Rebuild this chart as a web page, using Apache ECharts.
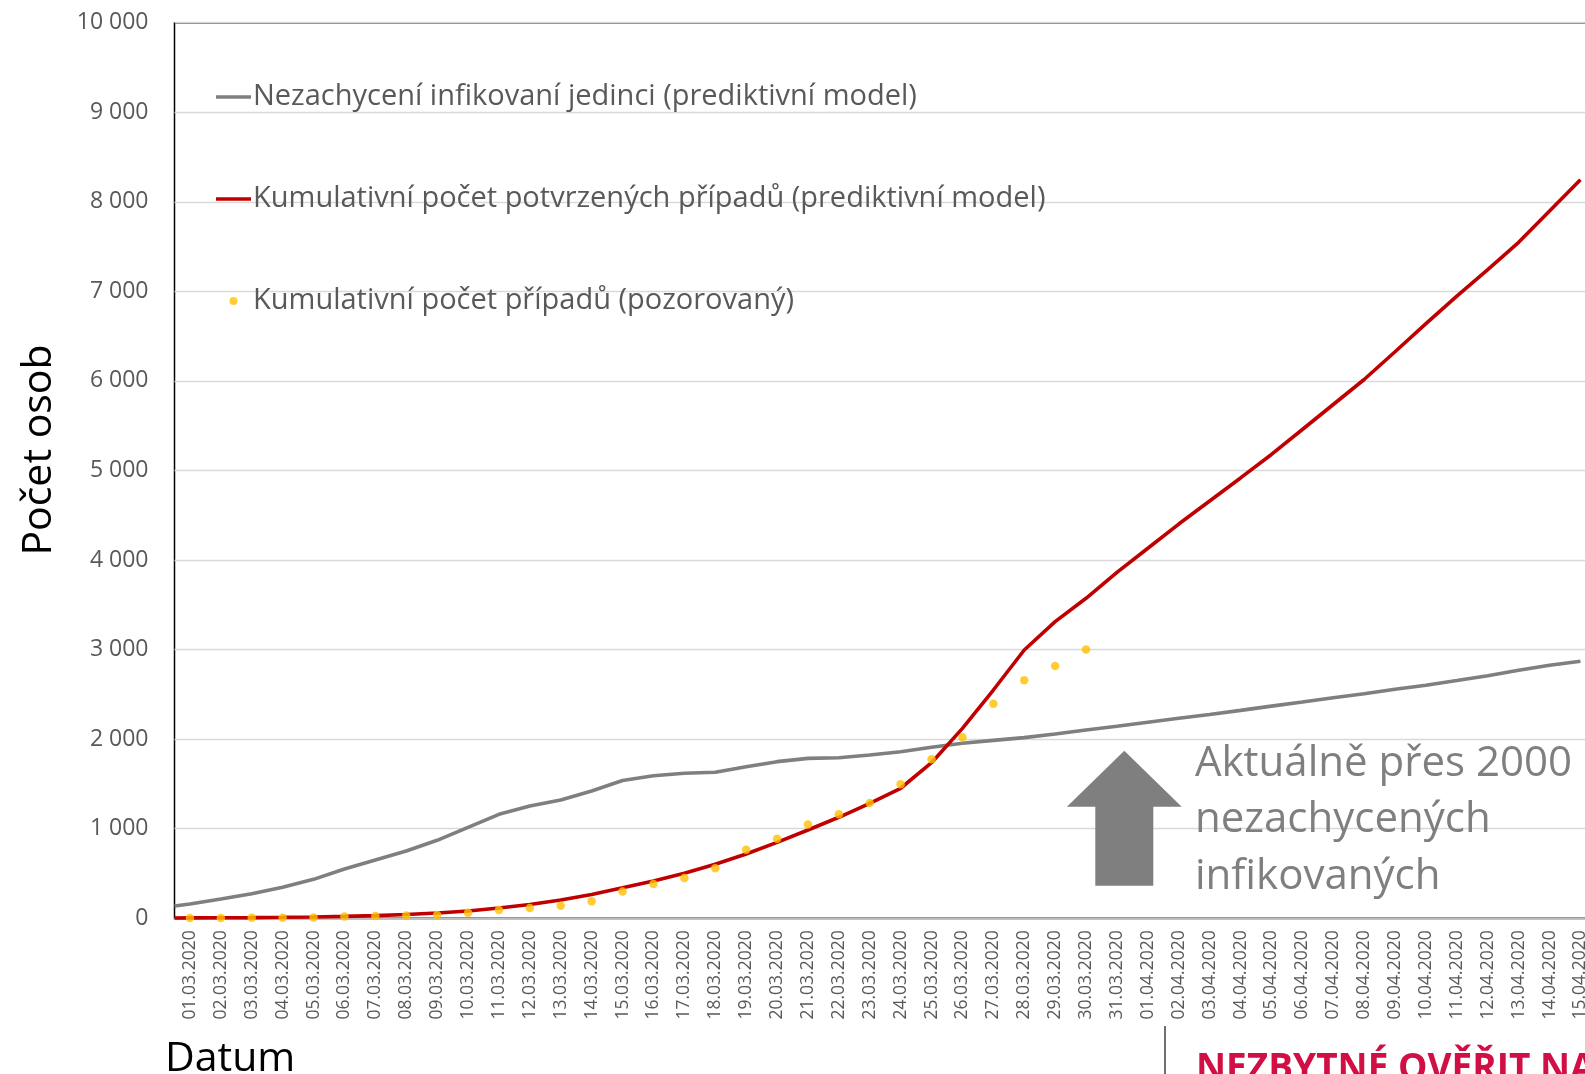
<!DOCTYPE html>
<html>
<head>
<meta charset="utf-8">
<title>Počet osob</title>
<script src="https://cdn.jsdelivr.net/npm/echarts@6/dist/echarts.min.js"></script>
<style>
  html, body { margin: 0; padding: 0; background: #fff; overflow: hidden; }
  #chart { width: 1640px; height: 1074px; }
</style>
</head>
<body>
<div id="chart"></div>
<script>
// data
var dates = ['01.03.2020','02.03.2020','03.03.2020','04.03.2020','05.03.2020','06.03.2020','07.03.2020','08.03.2020','09.03.2020','10.03.2020',
  '11.03.2020','12.03.2020','13.03.2020','14.03.2020','15.03.2020','16.03.2020','17.03.2020','18.03.2020','19.03.2020','20.03.2020',
  '21.03.2020','22.03.2020','23.03.2020','24.03.2020','25.03.2020','26.03.2020','27.03.2020','28.03.2020','29.03.2020','30.03.2020',
  '31.03.2020','01.04.2020','02.04.2020','03.04.2020','04.04.2020','05.04.2020','06.04.2020','07.04.2020','08.04.2020','09.04.2020',
  '10.04.2020','11.04.2020','12.04.2020','13.04.2020','14.04.2020','15.04.2020']

// nezachyceni infikovani (model)
var uncaughtModel = [160, 215, 275, 346, 435, 550, 651, 751, 871, 1016,
  1161, 1254, 1321, 1421, 1538, 1592, 1619, 1630, 1693, 1749,
  1786, 1793, 1823, 1860, 1909, 1954, 1987, 2017, 2058, 2102,
  2145, 2189, 2233, 2276, 2322, 2369, 2415, 2462, 2508, 2557,
  2603, 2655, 2709, 2769, 2825, 2870]

// kumulativni pocet potvrzenych (model)
var confirmedModel = [5, 6, 8, 11, 15, 22, 30, 42, 60, 82,
  115, 155, 205, 265, 340, 416, 502, 603, 718, 848,
  986, 1128, 1284, 1452, 1737, 2121, 2549, 2996, 3312, 3573,
  3863, 4132, 4402, 4660, 4917, 5179, 5458, 5737, 6016, 6326,
  6640, 6948, 7243, 7548, 7898, 8247]

// pozorovano
var observed = [3, 3, 5, 5, 8, 19, 26, 32, 38, 63,
  94, 116, 141, 189, 298, 383, 450, 560, 765, 889,
  1047, 1161, 1287, 1497, 1775, 2022, 2395, 2657, 2817, 3002]

// where the model lines meet the left edge of the plot
var uncaughtAtAxis = 137
var confirmedAtAxis = 3

var yTicks = [0, 1000, 2000, 3000, 4000, 5000, 6000, 7000, 8000, 9000, 10000]

var seriesNames = [
  'Nezachycení infikovaní jedinci (prediktivní model)',
  'Kumulativní počet potvrzených případů (prediktivní model)',
  'Kumulativní počet případů (pozorovaný)'
]

function toPairs(edge, arr) {
  var out = [[-0.5, edge]]
  arr.forEach(function (v, i) { out.push([i, v]) })
  return out
}

function fmt(v) {
  return String(v).replace(/\B(?=(\d{3})+(?!\d))/g, ' ')
}

var FONT = 'Open Sans'
var LINE_ICON = 'path://M0,0L35,0L35,3.6L0,3.6Z'
var chart = echarts.init(document.getElementById('chart'))

var option = {
  animation: false,
  backgroundColor: '#fff',
  grid: {
    left: 174.5, top: 22.7, width: 30.9 * dates.length, height: 895.6,
    show: true, borderColor: '#000', borderWidth: 1.5
  },
  legend: {
    orient: 'vertical',
    left: 211, top: 74,
    itemWidth: 35, itemHeight: 8, itemGap: 66,
    textStyle: { fontFamily: FONT, fontSize: 29, color: '#595959', lineHeight: 36, padding: [0, 0, 0, -3] },
    data: [
      { name: seriesNames[0], icon: LINE_ICON },
      { name: seriesNames[1], icon: LINE_ICON },
      { name: seriesNames[2], icon: 'circle' }
    ]
  },
  xAxis: [{
    type: 'category',
    data: dates,
    boundaryGap: true,
    axisLine: { lineStyle: { color: '#BFBFBF', width: 2 } },
    axisTick: { show: false },
    axisLabel: { interval: 0, rotate: 90, margin: 12, color: '#595959', fontFamily: FONT, fontSize: 17.5 },
    splitLine: { show: false }
  }, {
    // hidden axis for the model lines, same spacing as the categories
    type: 'value',
    min: -0.5, max: dates.length - 0.5,
    show: false
  }],
  yAxis: {
    type: 'value',
    min: yTicks[0], max: yTicks[yTicks.length - 1], interval: 1000,
    axisLine: { show: false },
    axisTick: { show: false },
    axisLabel: { margin: 26, color: '#595959', fontFamily: FONT, fontSize: 23, formatter: fmt },
    splitLine: { lineStyle: { color: '#D9D9D9', width: 1.3 } }
  },
  series: [{
    name: seriesNames[0],
    type: 'line',
    xAxisIndex: 1,
    data: toPairs(uncaughtAtAxis, uncaughtModel),
    symbol: 'none',
    lineStyle: { color: '#7F7F7F', width: 3.6 },
    itemStyle: { color: '#7F7F7F' },
    z: 3
  }, {
    name: seriesNames[1],
    type: 'line',
    xAxisIndex: 1,
    data: toPairs(confirmedAtAxis, confirmedModel),
    symbol: 'none',
    lineStyle: { color: '#C00000', width: 3.6 },
    itemStyle: { color: '#C00000' },
    z: 4
  }, {
    name: seriesNames[2],
    type: 'scatter',
    xAxisIndex: 0,
    data: observed,
    symbol: 'circle',
    symbolSize: 8.5,
    itemStyle: { color: '#FFC000' },
    z: 5
  }],
  graphic: [
    // osa y nadpis
    { type: 'text', x: 39, y: 450, rotation: Math.PI / 2,
      style: { text: 'Počet osob', fontFamily: FONT, fontSize: 41, fill: '#000', align: 'center', verticalAlign: 'middle' } },
    // osa x nadpis
    { type: 'text', x: 165, y: 1059,
      style: { text: 'Datum', fontFamily: FONT, fontSize: 41, fill: '#000', align: 'left', verticalAlign: 'middle' } },
    // sipka
    { type: 'polygon', z: 10,
      shape: { points: [[1124.3, 750.7], [1181.7, 806.7], [1153.3, 806.7], [1153.3, 885.7], [1095.3, 885.7], [1095.3, 806.7], [1066.9, 806.7]] },
      style: { fill: '#7F7F7F' } },
    { type: 'text', x: 1195, y: 736, z: 10,
      style: { text: 'Aktuálně přes 2000\nnezachycených\ninfikovaných', fontFamily: FONT, fontSize: 42, lineHeight: 56.3,
        fill: '#7F7F7F', align: 'left', verticalAlign: 'top' } },
    // spodni poznamka
    { type: 'line', shape: { x1: 1165, y1: 1026, x2: 1165, y2: 1080 }, style: { stroke: '#404040', lineWidth: 1.5 } },
    { type: 'text', x: 1196, y: 1069,
      style: { text: 'NEZBYTNÉ OVĚŘIT NA DATECH', fontFamily: FONT, fontWeight: 'bold', fontSize: 37, fill: '#D20F44',
        align: 'left', verticalAlign: 'middle' } }
  ]
}

chart.setOption(option)
</script>
</body>
</html>
